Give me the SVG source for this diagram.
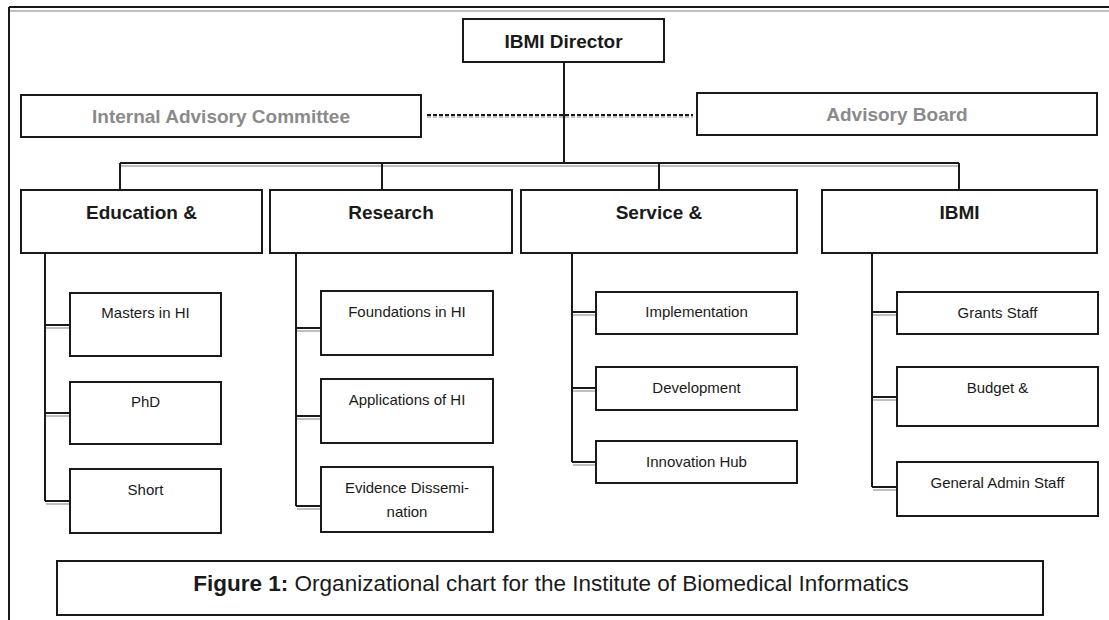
<svg xmlns="http://www.w3.org/2000/svg" width="1109" height="620" viewBox="0 0 1109 620">
<style>
.box{fill:#fff;stroke:#1a1a1a;stroke-width:2}
.ln{stroke:#1a1a1a;stroke-width:2;fill:none}
.sh{stroke:#aaa;stroke-width:1.5;fill:none}
.t{font-family:"Liberation Sans",Arial,sans-serif;text-anchor:middle;fill:#1a1a1a}
.h{font-size:19px;font-weight:bold}
.g{font-size:19px;font-weight:bold;fill:#8a8a8a}
.c{font-size:15px}
</style>
<rect width="1109" height="620" fill="#fff"/>
<g id="frame">
<line class="sh" x1="9" y1="11" x2="1109" y2="11"/>
<line class="ln" x1="9" y1="7" x2="1109" y2="7"/>
<line class="ln" x1="9" y1="7" x2="9" y2="620"/>
</g>
<g id="connectors">
<line class="ln" x1="564" y1="62" x2="564" y2="163"/>
<line class="sh" x1="427" y1="117" x2="693" y2="117" stroke-dasharray="4 2"/>
<line class="ln" x1="427" y1="115" x2="693" y2="115" stroke-dasharray="4 2" stroke-width="1.5"/>
<line class="sh" x1="120" y1="166" x2="959" y2="166"/>
<line class="ln" x1="120" y1="163" x2="959" y2="163"/>
<line class="ln" x1="120" y1="163" x2="120" y2="190"/>
<line class="ln" x1="382" y1="163" x2="382" y2="190"/>
<line class="ln" x1="659" y1="163" x2="659" y2="190"/>
<line class="ln" x1="959" y1="163" x2="959" y2="190"/>
<path class="ln" d="M45 253V501M45 325H70M45 413H70M45 501H70"/>
<path class="ln" d="M296 253V506M296 328H321M296 416H321M296 506H321"/>
<path class="ln" d="M572 253V462M572 312H596M572 388H596M572 462H596"/>
<path class="ln" d="M872 253V487M872 312H897M872 397H897M872 487H897"/>
<path class="sh" d="M46 328H70M46 416H70M46 504H70M297 331H321M297 419H321M297 509H321M573 315H596M573 391H596M573 465H596M873 315H897M873 400H897M873 490H897"/>
</g>
<g id="director">
<rect class="box" x="463" y="19" width="201" height="43"/>
<text class="t h" x="563.5" y="48">IBMI Director</text>
</g>
<g id="internal-advisory">
<rect class="box" x="21" y="95" width="400" height="42"/>
<text class="t g" x="221" y="123">Internal Advisory Committee</text>
</g>
<g id="advisory-board">
<rect class="box" x="697" y="93" width="400" height="42"/>
<text class="t g" x="897" y="121">Advisory Board</text>
</g>
<g id="education">
<rect class="box" x="21" y="190" width="241" height="63"/>
<text class="t h" x="141.5" y="219">Education &amp;</text>
</g>
<g id="research">
<rect class="box" x="270" y="190" width="242" height="63"/>
<text class="t h" x="391" y="219">Research</text>
</g>
<g id="service">
<rect class="box" x="521" y="190" width="276" height="63"/>
<text class="t h" x="659" y="219">Service &amp;</text>
</g>
<g id="ibmi">
<rect class="box" x="822" y="190" width="275" height="63"/>
<text class="t h" x="959.5" y="219">IBMI</text>
</g>
<g id="masters">
<rect class="box" x="70" y="293" width="151" height="63"/>
<text class="t c" x="145.5" y="318">Masters in HI</text>
</g>
<g id="phd">
<rect class="box" x="70" y="382" width="151" height="62"/>
<text class="t c" x="145.5" y="407">PhD</text>
</g>
<g id="short">
<rect class="box" x="70" y="469" width="151" height="64"/>
<text class="t c" x="145.5" y="495">Short</text>
</g>
<g id="foundations">
<rect class="box" x="321" y="291" width="172" height="64"/>
<text class="t c" x="407" y="317">Foundations in HI</text>
</g>
<g id="applications">
<rect class="box" x="321" y="379" width="172" height="64"/>
<text class="t c" x="407" y="405">Applications of HI</text>
</g>
<g id="evidence">
<rect class="box" x="321" y="467" width="172" height="65"/>
<text class="t c" x="407" y="493">Evidence Dissemi-</text>
<text class="t c" x="407" y="517">nation</text>
</g>
<g id="implementation">
<rect class="box" x="596" y="292" width="201" height="42"/>
<text class="t c" x="696.5" y="317">Implementation</text>
</g>
<g id="development">
<rect class="box" x="596" y="367" width="201" height="43"/>
<text class="t c" x="696.5" y="393">Development</text>
</g>
<g id="innovation">
<rect class="box" x="596" y="441" width="201" height="42"/>
<text class="t c" x="696.5" y="467">Innovation Hub</text>
</g>
<g id="grants">
<rect class="box" x="897" y="292" width="201" height="42"/>
<text class="t c" x="997.5" y="318">Grants Staff</text>
</g>
<g id="budget">
<rect class="box" x="897" y="367" width="201" height="59"/>
<text class="t c" x="997.5" y="393">Budget &amp;</text>
</g>
<g id="general-admin">
<rect class="box" x="897" y="462" width="201" height="54"/>
<text class="t c" x="997.5" y="488">General Admin Staff</text>
</g>
<g id="caption">
<rect class="box" x="57" y="561" width="986" height="54"/>
<text class="t" x="551" y="591" font-size="22.5"><tspan font-weight="bold">Figure 1:</tspan> Organizational chart for the Institute of Biomedical Informatics</text>
</g>
</svg>
